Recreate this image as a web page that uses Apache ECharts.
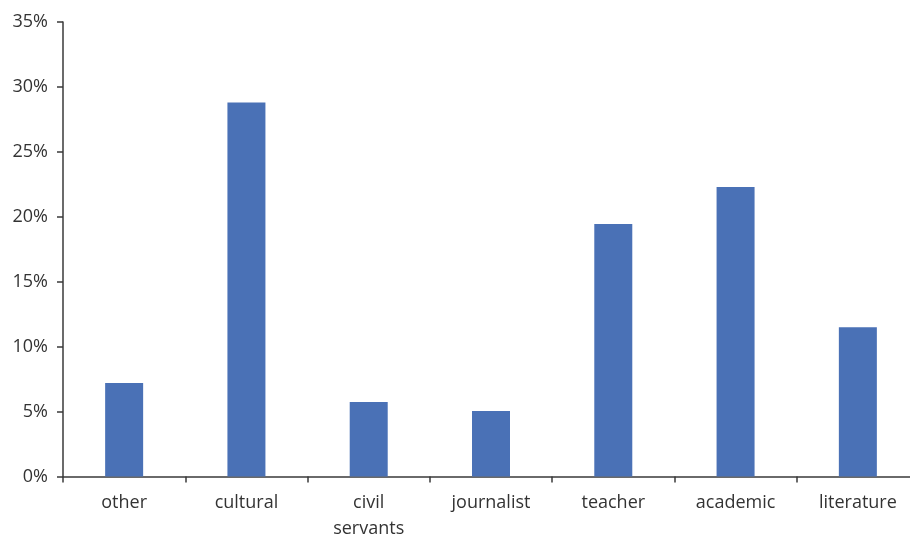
<!DOCTYPE html>
<html>
<head>
<meta charset="utf-8">
<script src="https://cdn.jsdelivr.net/npm/echarts@6/dist/echarts.min.js"></script>
<style>
    html, body { margin: 0; padding: 0; background: #fff; }
    #main { width: 910px; height: 536px; }
</style>
</head>
<body>
<div id="main"></div>
<script>
// categories and values (percent)
var categories = ['other', 'cultural', 'civil\nservants', 'journalist', 'teacher', 'academic', 'literature'];
var shares = [7.2, 28.8, 5.74, 5.04, 19.44, 22.29, 11.5];

var myChart = echarts.init(document.getElementById('main'));
var axisColor = '#3a3a3a';
var textColor = '#333333';

var option = {
    animation: false,
    grid: {
        left: 63,
        top: 22,
        width: 856,
        height: 454.5,
        containLabel: false,
        outerBoundsMode: 'none'
    },
    xAxis: {
        type: 'category',
        data: categories,
        axisLine: { lineStyle: { color: axisColor, width: 1.5 } },
        axisTick: { show: true, length: 6, inside: false, alignWithLabel: false, lineStyle: { color: axisColor, width: 1.5 } },
        axisLabel: {
            color: textColor,
            fontFamily: 'Open Sans',
            fontSize: 18,
            lineHeight: 26,
            margin: 13,
            interval: 0
        }
    },
    yAxis: {
        type: 'value',
        min: 0,
        max: 35,
        interval: 5,
        splitLine: { show: false },
        axisLine: { show: true, lineStyle: { color: axisColor, width: 1.5 } },
        axisTick: { show: true, length: 6, lineStyle: { color: axisColor, width: 1.5 } },
        axisLabel: {
            color: textColor,
            fontFamily: 'Open Sans',
            fontSize: 18,
            margin: 15,
            formatter: '{value}%'
        }
    },
    series: [
        {
            type: 'bar',
            data: shares,
            barWidth: 38,
            itemStyle: { color: '#4a71b6' }
        }
    ]
};
myChart.setOption(option);
</script>
</body>
</html>
